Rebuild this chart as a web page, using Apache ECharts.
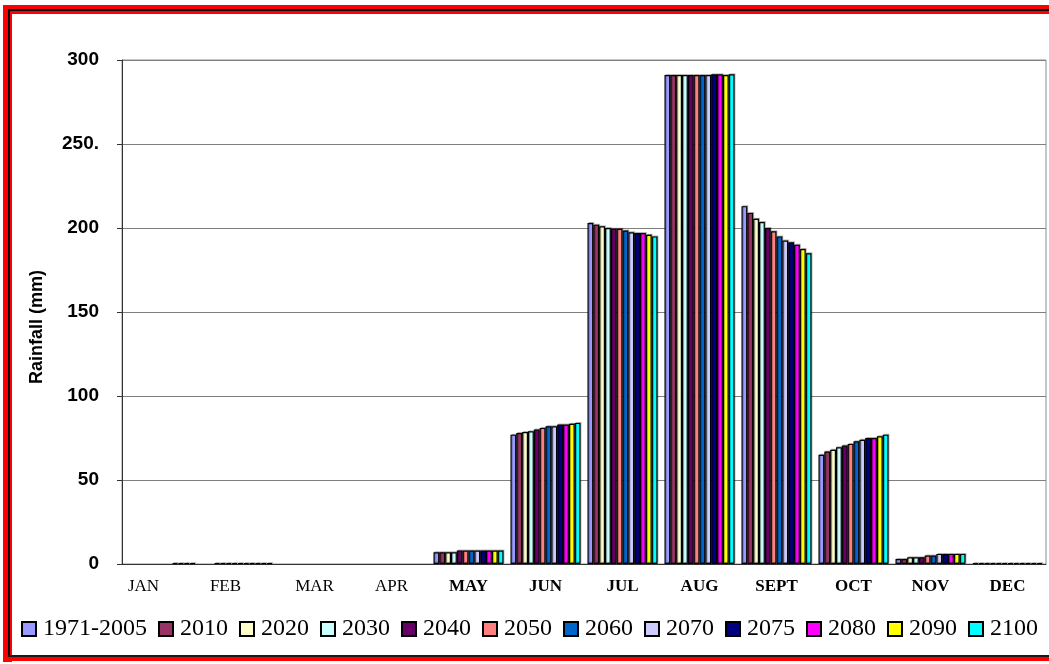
<!DOCTYPE html>
<html>
<head>
<meta charset="utf-8">
<script src="https://cdn.jsdelivr.net/npm/echarts@6/dist/echarts.min.js"></script>
<style>
  html, body { margin: 0; padding: 0; background: #fff; }
  #chart { width: 1049px; height: 664px; }
</style>
</head>
<body>
<div id="chart"></div>
<script>
// months on the x axis, first four drawn in plain type
const months = ['JAN', 'FEB', 'MAR', 'APR', 'MAY', 'JUN', 'JUL', 'AUG', 'SEPT', 'OCT', 'NOV', 'DEC']
const yTicks = ['0', '50', '100', '150', '200', '250.', '300']

// rainfall (mm) per month, one list per scenario year
const r1971 = [0, 0, 0, 0, 7, 77, 203, 291, 213, 65, 3, 0.5]
const r2010 = [0, 0, 0, 0, 7, 78, 202, 291, 209, 67, 3, 0.5]
const r2020 = [0, 0.5, 0, 0, 7, 78.5, 201, 291, 205.5, 68, 4, 0.5]
const r2030 = [0, 0.5, 0, 0, 7, 79, 200, 291, 203.5, 69.5, 4, 0.5]
const r2040 = [0, 0.5, 0, 0, 8, 80, 199.5, 291, 200, 70.5, 4, 0.5]
const r2050 = [0, 0.5, 0, 0, 8, 81, 199.5, 291, 198, 71.5, 5, 0.5]
const r2060 = [0, 0.5, 0, 0, 8, 82, 198.5, 291, 195, 73, 5, 0.5]
const r2070 = [0, 0.5, 0, 0, 8, 82, 197.5, 291, 192.5, 74, 6, 0.5]
const r2075 = [0.5, 0.5, 0, 0, 8, 83, 197, 291.5, 191.5, 75, 6, 0.5]
const r2080 = [0.5, 0.5, 0, 0, 8, 83, 197, 291.5, 190, 75, 6, 0.5]
const r2090 = [0.5, 0.5, 0, 0, 8, 83.5, 196, 291, 187.5, 76, 6, 0.5]
const r2100 = [0.5, 0.5, 0, 0, 8, 84, 195, 291.5, 185, 77, 6, 0.5]

const years = ['1971-2005', '2010', '2020', '2030', '2040', '2050', '2060', '2070', '2075', '2080', '2090', '2100']
const values = [r1971, r2010, r2020, r2030, r2040, r2050, r2060, r2070, r2075, r2080, r2090, r2100]
const colors = ['#9999FF', '#993366', '#FFFFCC', '#CCFFFF', '#660066', '#FF8080',
  '#0066CC', '#CCCCFF', '#000080', '#FF00FF', '#FFFF00', '#00FFFF']

const labelShift = { JAN: -17, FEB: -12 }

const chart = echarts.init(document.getElementById('chart'))

const option = {
  animation: false,
  backgroundColor: '#fff',
  color: colors,
  grid: {
    left: 122, right: 3, top: 60, bottom: 100,
    show: true, borderColor: '#8c8c8c', borderWidth: 1
  },
  legend: {
    data: years,
    left: 21, top: 617, width: 1028, padding: 0,
    icon: 'rect', itemWidth: 14, itemHeight: 14, itemGap: 11,
    textStyle: { fontFamily: 'Liberation Serif', fontSize: 24, color: '#000', padding: [0, 0, 0, 2] }
  },
  xAxis: {
    type: 'category',
    data: months.map((m, i) => {
      const shift = labelShift[m] || 0
      return {
        value: m,
        textStyle: {
          fontWeight: i < 4 ? 'normal' : 'bold',
          padding: shift < 0 ? [0, -2 * shift, 0, 0] : [0, 0, 0, 2 * shift]
        }
      }
    }),
    axisLine: { lineStyle: { color: '#333', width: 1 } },
    axisTick: { length: 5, lineStyle: { color: '#333' } },
    axisLabel: { fontFamily: 'Liberation Serif', fontSize: 17, color: '#000', margin: 14 }
  },
  yAxis: {
    type: 'value',
    min: 0, max: 300, interval: 50,
    name: 'Rainfall (mm)',
    nameLocation: 'middle',
    nameGap: 76,
    nameRotate: 90,
    nameTextStyle: {
      fontFamily: 'Liberation Sans', fontWeight: 'bold', fontSize: 18, color: '#000',
      padding: [0, 30, 0, 0]
    },
    axisLine: { show: true, lineStyle: { color: '#333', width: 1 } },
    axisTick: { show: true, length: 5, lineStyle: { color: '#333' } },
    axisLabel: {
      fontFamily: 'Liberation Sans', fontWeight: 'bold', fontSize: 19, color: '#000', margin: 23,
      padding: [6, 0, 0, 0],
      formatter: (v) => yTicks[v / 50]
    },
    splitLine: { lineStyle: { color: '#7f7f7f', width: 1 } }
  },
  series: years.map((name, i) => ({
    name: name,
    type: 'bar',
    // zero months leave no mark in the original
    data: values[i].map((v) => (v === 0 ? '-' : v)),
    barGap: '0%',
    barCategoryGap: '9%',
    itemStyle: {
      color: colors[i], borderColor: '#000', borderWidth: 1.2,
      shadowColor: 'rgba(0,0,0,0.25)', shadowOffsetX: 1, shadowOffsetY: -1
    }
  })),
  graphic: [
    { type: 'rect', shape: { x: 3, y: 5, width: 1046, height: 9 }, style: { fill: '#ff0000' }, z: 100 },
    { type: 'rect', shape: { x: 3, y: 5, width: 9, height: 657 }, style: { fill: '#ff0000' }, z: 100 },
    { type: 'rect', shape: { x: 3, y: 657, width: 1046, height: 4 }, style: { fill: '#ff0000' }, z: 100 },
    { type: 'rect', shape: { x: 8, y: 9, width: 1041, height: 2 }, style: { fill: '#000' }, z: 101 },
    { type: 'rect', shape: { x: 8, y: 9, width: 2, height: 648 }, style: { fill: '#000' }, z: 101 },
    { type: 'rect', shape: { x: 8, y: 655, width: 1041, height: 2 }, style: { fill: '#1a1a1a' }, z: 101 }
  ]
}

chart.setOption(option)
</script>
</body>
</html>
